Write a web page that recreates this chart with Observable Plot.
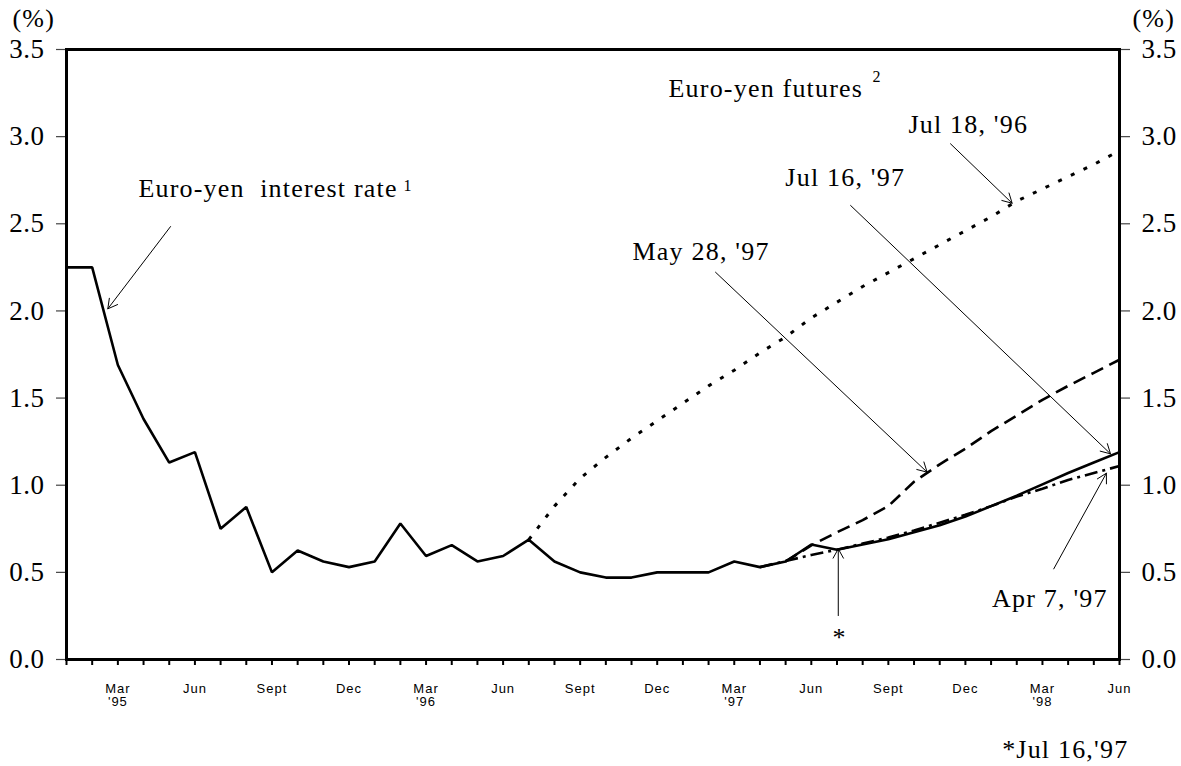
<!DOCTYPE html>
<html><head><meta charset="utf-8">
<script src="https://cdn.jsdelivr.net/npm/d3@7"></script>
<script src="https://cdn.jsdelivr.net/npm/@observablehq/plot@0.6"></script>
<style>
html,body{margin:0;padding:0;background:#fff}
#chart svg{display:block}
g[aria-label="x-axis tick label"]{font-family:"Liberation Sans",Arial,sans-serif;letter-spacing:1px}
g[aria-label="y-axis tick label"]{font-family:"Liberation Serif","Times New Roman",serif;letter-spacing:0.5px}
g[aria-label="text"]{letter-spacing:1.2px}
</style></head><body><div id="chart"></div>
<script>
// month categories, Jan '95 .. Jun '98 (index 0..41)
const monthLabels = [
  "", "", "Mar\n'95", "", "", "Jun", "", "", "Sept", "", "", "Dec",
  "", "", "Mar\n'96", "", "", "Jun", "", "", "Sept", "", "", "Dec",
  "", "", "Mar\n'97", "", "", "Jun", "", "", "Sept", "", "", "Dec",
  "", "", "Mar\n'98", "", "", "Jun"
];
const yTicks = [0, 0.5, 1.0, 1.5, 2.0, 2.5, 3.0, 3.5];

// Euro-yen interest rate (Jan '95 .. Jul '97)
const rateStart = 0;
const rate = [2.25, 2.25, 1.69, 1.38, 1.13, 1.19, 0.75, 0.875, 0.5, 0.625, 0.5625, 0.53,
  0.5625, 0.78, 0.594, 0.656, 0.5625, 0.594, 0.6875, 0.5625, 0.5, 0.47, 0.47, 0.5,
  0.5, 0.5, 0.5625, 0.53, 0.5625, 0.66, 0.63];
// Euro-yen futures, Jul 18 '96 (from Jul '96)
const futJul96Start = 18;
const futJul96 = [0.6875, 0.88, 1.04, 1.16, 1.27, 1.37, 1.47, 1.57, 1.66, 1.76, 1.85, 1.96,
  2.05, 2.14, 2.22, 2.30, 2.38, 2.46, 2.54, 2.63, 2.70, 2.77, 2.84, 2.92];
// Apr 7 '97 (from Apr '97)
const futApr97Start = 27;
const futApr97 = [0.53, 0.565, 0.60, 0.63, 0.665, 0.70, 0.74, 0.785, 0.83, 0.88, 0.935, 0.98, 1.03, 1.07, 1.11];
// May 28 '97 (from May '97)
const futMay97Start = 28;
const futMay97 = [0.5625, 0.655, 0.73, 0.80, 0.88, 1.02, 1.12, 1.21, 1.31, 1.40, 1.49, 1.57, 1.645, 1.72];
// Jul 16 '97 (from Jul '97)
const futJul97Start = 30;
const futJul97 = [0.63, 0.66, 0.69, 0.73, 0.77, 0.82, 0.88, 0.94, 1.005, 1.07, 1.13, 1.19];

// annotations (data units: month index, percent)
const labelText = ["Euro-yen\u00a0 interest rate", "Euro-yen futures", "Jul 18, '96", "Jul 16, '97", "May 28, '97", "Apr 7, '97", "*", "*Jul 16,'97"];
const labelX = [2.80, 23.44, 32.78, 27.99, 22.04, 36.04, 30.10, 36.43];
const labelY = [2.653, 3.230, 3.020, 2.714, 2.295, 0.304, 0.075, -0.565];
const supText = ["1", "2"];
const supX = [13.12, 31.38];
const supY = [2.69, 3.312];
const arrowX1 = [4.05, 34.42, 30.53, 25.27, 38.44, 30.05];
const arrowY1 = [2.484, 2.959, 2.605, 2.222, 0.52, 0.252];
const arrowX2 = [1.608, 36.82, 40.65, 33.51, 40.49, 30.05];
const arrowY2 = [2.012, 2.618, 1.18, 1.075, 1.069, 0.635];

const rows = (start, vals) => vals.map((v, k) => ({i: start + k, v}));
const labels = labelText.map((t, k) => ({t, x: labelX[k], y: labelY[k], anchor: t === "*" ? "middle" : "start"}));
const sups = supText.map((t, k) => ({t, x: supX[k], y: supY[k]}));
const arrows = arrowX1.map((_, k) => ({x1: arrowX1[k], y1: arrowY1[k], x2: arrowX2[k], y2: arrowY2[k]}));

const serif = "Liberation Serif, Times New Roman, serif";
const chart = Plot.plot({
  width: 1181, height: 766,
  marginLeft: 66, marginRight: 62, marginTop: 49, marginBottom: 107,
  x: {domain: [0, 41]},
  y: {domain: [0, 3.5]},
  style: {fontFamily: serif, background: "#fff", color: "#000", overflow: "visible"},
  marks: [
    Plot.axisY({anchor: "left", ticks: yTicks, tickFormat: d3.format(".1f"), tickSize: 10, tickPadding: 12, fontSize: 27, stroke: "#444", strokeWidth: 1.2, label: null}),
    Plot.axisY({anchor: "right", ticks: yTicks, tickFormat: d3.format(".1f"), tickSize: 10, tickPadding: 12, fontSize: 27, stroke: "#444", strokeWidth: 1.2, label: null}),
    Plot.axisX({ticks: d3.range(monthLabels.length), tickFormat: i => monthLabels[i], tickSize: 6, tickPadding: 18, fontSize: 13, strokeWidth: 2, label: null}),
    Plot.frame({strokeWidth: 3}),
    Plot.line(rows(futJul96Start, futJul96), {x: "i", y: "v", strokeWidth: 3, strokeDasharray: "4,10", strokeLinecap: "butt"}),
    Plot.line(rows(futMay97Start, futMay97), {x: "i", y: "v", strokeWidth: 2.6, strokeDasharray: "13,7", strokeLinecap: "butt"}),
    Plot.line(rows(futApr97Start, futApr97), {x: "i", y: "v", strokeWidth: 2.6, strokeDasharray: "13,5,3,5", strokeLinecap: "butt"}),
    Plot.line(rows(rateStart, rate), {x: "i", y: "v", strokeWidth: 2.6, strokeLinejoin: "miter", strokeLinecap: "butt"}),
    Plot.line(rows(futJul97Start, futJul97), {x: "i", y: "v", strokeWidth: 2.6, strokeLinejoin: "miter", strokeLinecap: "butt"}),
    Plot.arrow(arrows, {x1: "x1", y1: "y1", x2: "x2", y2: "y2", strokeWidth: 1, headLength: 16, headAngle: 58}),
    Plot.text(labels, {x: "x", y: "y", text: "t", textAnchor: "start", lineAnchor: "bottom", fontSize: 26, fontFamily: serif, filter: d => d.anchor === "start"}),
    Plot.text(labels, {x: "x", y: "y", text: "t", textAnchor: "middle", lineAnchor: "bottom", fontSize: 26, fontFamily: serif, filter: d => d.anchor === "middle"}),
    Plot.text(sups, {x: "x", y: "y", text: "t", textAnchor: "start", lineAnchor: "bottom", fontSize: 16, fontFamily: serif}),
    Plot.text(["(%)"], {frameAnchor: "top-left", textAnchor: "start", lineAnchor: "bottom", dx: -54, dy: -23, fontSize: 26, fontFamily: serif}),
    Plot.text(["(%)"], {frameAnchor: "top-right", textAnchor: "start", lineAnchor: "bottom", dx: 13, dy: -23, fontSize: 26, fontFamily: serif})
  ]
});
document.getElementById("chart").appendChild(chart);
</script>
</body></html>
